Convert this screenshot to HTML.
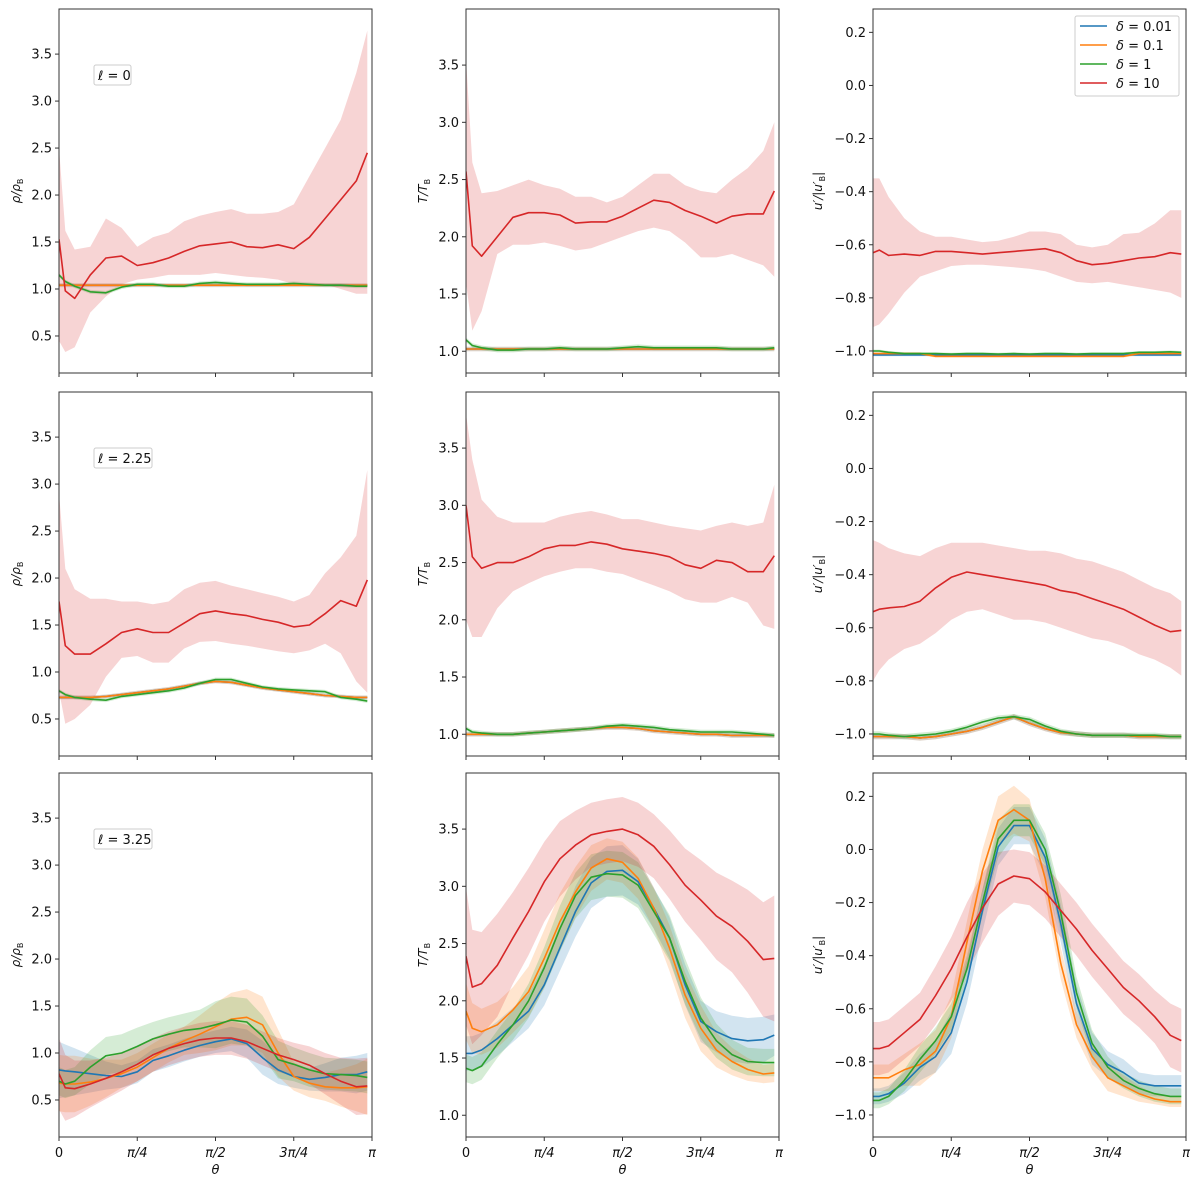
<!DOCTYPE html>
<html><head><meta charset="utf-8"><style>
body{margin:0;background:#fff;}
svg{display:block;font-family:"DejaVu Sans","Liberation Sans",sans-serif;}
</style></head><body>
<svg id="fig" width="1200" height="1186" viewBox="0 0 1200 1186" xmlns="http://www.w3.org/2000/svg"></svg>
<script>
const thetaFrac=[0,.02,.05,.1,.15,.2,.25,.3,.35,.4,.45,.5,.55,.6,.65,.7,.75,.8,.85,.9,.95,.985];
const seriesNames=["δ = 0.01","δ = 0.1","δ = 1","δ = 10"];
const colors=["#1f77b4","#ff7f0e","#2ca02c","#d62728"];
const rhoTicks=[0.5,1.0,1.5,2.0,2.5,3.0,3.5];
const tTicks=[1.0,1.5,2.0,2.5,3.0,3.5];
const uTicks=[-1.0,-0.8,-0.6,-0.4,-0.2,0.0,0.2];
const xTickLabels=["0","π/4","π/2","3π/4","π"];
const ellLabels=["ℓ = 0","ℓ = 2.25","ℓ = 3.25"];

// Row 1 (l=0)
const r1c1Blue=[1.04,1.04,1.04,1.04,1.04,1.04,1.04,1.04,1.04,1.04,1.04,1.04,1.04,1.04,1.04,1.04,1.04,1.04,1.04,1.04,1.04,1.04];
const r1c1Orange=[1.04,1.04,1.04,1.04,1.04,1.04,1.04,1.04,1.04,1.04,1.04,1.04,1.04,1.04,1.04,1.04,1.04,1.04,1.04,1.04,1.04,1.04];
const r1c1Green=[1.15,1.08,1.03,0.97,0.96,1.02,1.05,1.05,1.03,1.03,1.06,1.07,1.06,1.05,1.05,1.05,1.06,1.05,1.04,1.04,1.03,1.03];
const r1c1Red=[1.53,0.98,0.9,1.15,1.33,1.35,1.25,1.28,1.33,1.40,1.46,1.48,1.50,1.45,1.44,1.47,1.43,1.55,1.75,1.95,2.15,2.45];
const r1c1RedLo=[0.45,0.33,0.38,0.75,0.92,1.05,1.10,1.12,1.15,1.15,1.15,1.17,1.15,1.13,1.12,1.10,1.05,1.05,1.05,1.0,0.95,0.95];
const r1c1RedHi=[2.5,1.62,1.42,1.45,1.75,1.65,1.45,1.55,1.60,1.72,1.78,1.82,1.85,1.80,1.80,1.82,1.90,2.2,2.5,2.8,3.3,3.75];

const r1c2Blue=[1.02,1.02,1.02,1.02,1.02,1.02,1.02,1.02,1.02,1.02,1.02,1.02,1.02,1.02,1.02,1.02,1.02,1.02,1.02,1.02,1.02,1.02];
const r1c2Orange=[1.02,1.02,1.02,1.02,1.02,1.02,1.02,1.02,1.02,1.02,1.02,1.02,1.02,1.02,1.02,1.02,1.02,1.02,1.02,1.02,1.02,1.02];
const r1c2Green=[1.10,1.05,1.03,1.01,1.01,1.02,1.02,1.03,1.02,1.02,1.02,1.03,1.04,1.03,1.03,1.03,1.03,1.03,1.02,1.02,1.02,1.03];
const r1c2Red=[2.57,1.92,1.83,2.0,2.17,2.21,2.21,2.19,2.12,2.13,2.13,2.18,2.25,2.32,2.30,2.23,2.18,2.12,2.18,2.20,2.20,2.40];
const r1c2RedLo=[1.6,1.18,1.35,1.85,1.93,1.93,1.95,1.92,1.88,1.90,1.95,2.0,2.05,2.08,2.05,1.95,1.82,1.82,1.85,1.80,1.75,1.65];
const r1c2RedHi=[3.55,2.65,2.38,2.40,2.45,2.50,2.45,2.42,2.35,2.35,2.30,2.35,2.45,2.55,2.55,2.45,2.40,2.38,2.50,2.60,2.75,3.0];

const r1c3Blue=[-1.015,-1.015,-1.015,-1.015,-1.015,-1.015,-1.015,-1.015,-1.015,-1.015,-1.015,-1.015,-1.015,-1.015,-1.015,-1.015,-1.015,-1.015,-1.015,-1.015,-1.015,-1.015];
const r1c3Orange=[-1.01,-1.01,-1.01,-1.01,-1.01,-1.02,-1.02,-1.02,-1.02,-1.02,-1.02,-1.02,-1.02,-1.02,-1.02,-1.02,-1.02,-1.02,-1.01,-1.01,-1.01,-1.01];
const r1c3Green=[-1.0,-1.0,-1.005,-1.01,-1.01,-1.01,-1.012,-1.01,-1.01,-1.012,-1.01,-1.012,-1.01,-1.01,-1.012,-1.01,-1.01,-1.01,-1.005,-1.005,-1.003,-1.005];
const r1c3Red=[-0.63,-0.62,-0.64,-0.635,-0.64,-0.625,-0.625,-0.63,-0.635,-0.63,-0.625,-0.62,-0.615,-0.63,-0.66,-0.675,-0.67,-0.66,-0.65,-0.645,-0.63,-0.635];
const r1c3RedLo=[-0.91,-0.90,-0.86,-0.78,-0.72,-0.70,-0.68,-0.675,-0.675,-0.68,-0.685,-0.69,-0.70,-0.72,-0.74,-0.745,-0.74,-0.75,-0.76,-0.77,-0.78,-0.80];
const r1c3RedHi=[-0.35,-0.35,-0.42,-0.50,-0.55,-0.57,-0.57,-0.58,-0.59,-0.585,-0.57,-0.55,-0.55,-0.56,-0.60,-0.61,-0.60,-0.56,-0.555,-0.52,-0.47,-0.47];

// Row 2 (l=2.25)
const r2c1Blue=[0.73,0.73,0.73,0.73,0.74,0.76,0.78,0.80,0.82,0.85,0.88,0.90,0.89,0.86,0.83,0.81,0.79,0.77,0.75,0.74,0.73,0.73];
const r2c1Orange=[0.73,0.73,0.73,0.73,0.74,0.76,0.78,0.80,0.82,0.85,0.88,0.90,0.89,0.86,0.83,0.81,0.79,0.77,0.75,0.74,0.73,0.73];
const r2c1Green=[0.80,0.76,0.73,0.71,0.70,0.74,0.76,0.78,0.80,0.83,0.88,0.92,0.92,0.88,0.84,0.82,0.81,0.80,0.79,0.73,0.71,0.69];
const r2c1Red=[1.75,1.28,1.19,1.19,1.30,1.42,1.46,1.42,1.42,1.52,1.62,1.65,1.62,1.60,1.56,1.53,1.48,1.50,1.62,1.76,1.70,1.98];
const r2c1RedLo=[0.8,0.45,0.50,0.65,0.95,1.15,1.17,1.10,1.10,1.25,1.32,1.33,1.30,1.28,1.25,1.22,1.20,1.23,1.30,1.20,0.9,0.78];
const r2c1RedHi=[2.9,2.1,1.88,1.78,1.78,1.75,1.75,1.72,1.75,1.88,1.95,1.97,1.92,1.88,1.84,1.80,1.75,1.82,2.05,2.22,2.45,3.15];

const r2c2Blue=[1.0,1.0,1.0,1.0,1.0,1.01,1.02,1.03,1.04,1.05,1.06,1.06,1.05,1.03,1.02,1.01,1.0,1.0,0.99,0.99,0.99,0.99];
const r2c2Orange=[1.0,1.0,1.0,1.0,1.0,1.01,1.02,1.03,1.04,1.05,1.06,1.06,1.05,1.03,1.02,1.01,1.0,1.0,0.99,0.99,0.99,0.99];
const r2c2Green=[1.05,1.02,1.01,1.0,1.0,1.01,1.02,1.03,1.04,1.05,1.07,1.08,1.07,1.06,1.04,1.03,1.02,1.02,1.02,1.01,1.0,0.99];
const r2c2Red=[3.0,2.55,2.45,2.5,2.5,2.55,2.62,2.65,2.65,2.68,2.66,2.62,2.60,2.58,2.55,2.48,2.45,2.52,2.50,2.42,2.42,2.56];
const r2c2RedLo=[2.0,1.85,1.85,2.1,2.25,2.32,2.38,2.42,2.45,2.45,2.42,2.40,2.35,2.30,2.25,2.18,2.15,2.15,2.20,2.15,1.95,1.92];
const r2c2RedHi=[3.8,3.4,3.05,2.90,2.85,2.85,2.85,2.90,2.93,2.95,2.92,2.88,2.88,2.85,2.82,2.80,2.78,2.82,2.85,2.82,2.85,3.18];

const r2c3Blue=[-1.01,-1.01,-1.01,-1.01,-1.015,-1.01,-1.0,-0.99,-0.975,-0.955,-0.935,-0.96,-0.98,-0.995,-1.0,-1.005,-1.005,-1.005,-1.01,-1.01,-1.01,-1.01];
const r2c3Orange=[-1.01,-1.01,-1.01,-1.01,-1.015,-1.01,-1.0,-0.99,-0.975,-0.955,-0.935,-0.96,-0.98,-0.995,-1.0,-1.005,-1.005,-1.005,-1.01,-1.01,-1.01,-1.01];
const r2c3Green=[-1.0,-1.0,-1.005,-1.01,-1.005,-1.0,-0.99,-0.975,-0.955,-0.94,-0.935,-0.945,-0.97,-0.99,-1.0,-1.005,-1.005,-1.005,-1.005,-1.005,-1.01,-1.01];
const r2c3Red=[-0.54,-0.53,-0.525,-0.52,-0.50,-0.45,-0.41,-0.39,-0.40,-0.41,-0.42,-0.43,-0.44,-0.46,-0.47,-0.49,-0.51,-0.53,-0.56,-0.59,-0.615,-0.61];
const r2c3RedLo=[-0.80,-0.76,-0.72,-0.68,-0.66,-0.62,-0.57,-0.54,-0.53,-0.55,-0.57,-0.57,-0.58,-0.60,-0.62,-0.64,-0.65,-0.67,-0.70,-0.72,-0.75,-0.78];
const r2c3RedHi=[-0.27,-0.28,-0.30,-0.32,-0.33,-0.30,-0.28,-0.28,-0.28,-0.29,-0.30,-0.31,-0.31,-0.32,-0.34,-0.35,-0.37,-0.39,-0.42,-0.45,-0.47,-0.50];

// Row 3 (l=3.25): means and band half-widths
const r3c1Blue=[0.82,0.81,0.80,0.78,0.76,0.75,0.80,0.92,0.97,1.03,1.08,1.12,1.15,1.10,0.95,0.82,0.75,0.72,0.74,0.77,0.77,0.80];
const r3c1Orange=[0.68,0.67,0.67,0.69,0.73,0.78,0.85,0.95,1.05,1.13,1.2,1.28,1.36,1.38,1.30,1.0,0.75,0.68,0.64,0.63,0.63,0.64];
const r3c1Green=[0.70,0.67,0.70,0.85,0.97,1.0,1.07,1.15,1.20,1.24,1.26,1.30,1.35,1.33,1.18,0.93,0.88,0.82,0.78,0.77,0.76,0.74];
const r3c1Red=[0.78,0.63,0.62,0.67,0.73,0.80,0.88,0.98,1.05,1.10,1.14,1.16,1.16,1.12,1.05,0.98,0.93,0.87,0.78,0.70,0.64,0.65];
const r3c1BlueHW=[0.3,0.28,0.25,0.2,0.15,0.12,0.12,0.12,0.12,0.12,0.12,0.12,0.13,0.15,0.18,0.15,0.12,0.12,0.15,0.18,0.2,0.2];
const r3c1OrangeHW=[0.3,0.3,0.3,0.25,0.2,0.15,0.15,0.15,0.15,0.15,0.2,0.25,0.28,0.3,0.3,0.25,0.15,0.15,0.15,0.2,0.25,0.3];
const r3c1GreenHW=[0.15,0.15,0.15,0.18,0.2,0.2,0.2,0.18,0.18,0.18,0.2,0.25,0.25,0.25,0.22,0.2,0.18,0.18,0.17,0.17,0.17,0.17];
const r3c1RedHW=[0.38,0.35,0.3,0.25,0.22,0.2,0.18,0.18,0.18,0.18,0.18,0.18,0.18,0.18,0.18,0.18,0.18,0.2,0.22,0.25,0.3,0.3];

const r3c2Blue=[1.54,1.54,1.57,1.67,1.79,1.91,2.14,2.46,2.78,3.03,3.13,3.14,3.04,2.81,2.55,2.14,1.82,1.73,1.67,1.65,1.66,1.70];
const r3c2Orange=[1.91,1.76,1.73,1.79,1.92,2.08,2.37,2.69,2.95,3.16,3.24,3.21,3.07,2.81,2.46,2.05,1.76,1.57,1.47,1.40,1.36,1.37];
const r3c2Green=[1.41,1.39,1.43,1.62,1.79,2.0,2.29,2.63,2.92,3.08,3.11,3.10,3.01,2.78,2.55,2.17,1.85,1.65,1.53,1.47,1.46,1.46];
const r3c2Red=[2.39,2.12,2.15,2.31,2.55,2.78,3.04,3.24,3.36,3.45,3.48,3.5,3.45,3.35,3.19,3.01,2.88,2.74,2.65,2.52,2.36,2.37];
const r3c2BlueHW=[0.15,0.15,0.15,0.15,0.15,0.15,0.18,0.2,0.22,0.22,0.22,0.22,0.2,0.18,0.18,0.18,0.18,0.18,0.2,0.2,0.2,0.18];
const r3c2OrangeHW=[0.25,0.22,0.2,0.2,0.2,0.22,0.25,0.25,0.22,0.2,0.18,0.18,0.18,0.18,0.2,0.2,0.2,0.15,0.12,0.1,0.08,0.08];
const r3c2GreenHW=[0.12,0.12,0.12,0.12,0.13,0.15,0.18,0.2,0.2,0.2,0.2,0.2,0.2,0.2,0.2,0.2,0.18,0.15,0.13,0.12,0.12,0.12];
const r3c2RedHW=[0.6,0.5,0.45,0.45,0.4,0.38,0.35,0.33,0.3,0.28,0.28,0.28,0.28,0.28,0.3,0.32,0.35,0.38,0.4,0.45,0.5,0.55];

const r3c3Blue=[-0.93,-0.93,-0.92,-0.88,-0.82,-0.78,-0.69,-0.50,-0.23,0.01,0.09,0.09,-0.03,-0.28,-0.58,-0.75,-0.81,-0.84,-0.88,-0.89,-0.89,-0.89];
const r3c3Orange=[-0.86,-0.86,-0.86,-0.83,-0.81,-0.76,-0.63,-0.35,-0.08,0.11,0.15,0.11,-0.11,-0.43,-0.66,-0.78,-0.86,-0.89,-0.92,-0.94,-0.95,-0.95];
const r3c3Green=[-0.945,-0.945,-0.93,-0.87,-0.79,-0.72,-0.63,-0.45,-0.20,0.04,0.11,0.11,0.0,-0.24,-0.54,-0.73,-0.82,-0.87,-0.90,-0.92,-0.93,-0.93];
const r3c3Red=[-0.75,-0.75,-0.74,-0.69,-0.64,-0.55,-0.45,-0.33,-0.22,-0.13,-0.10,-0.11,-0.16,-0.23,-0.30,-0.38,-0.45,-0.52,-0.57,-0.63,-0.70,-0.72];
const r3c3BlueHW=[0.03,0.03,0.03,0.04,0.05,0.06,0.08,0.08,0.08,0.07,0.07,0.07,0.07,0.07,0.07,0.06,0.05,0.05,0.04,0.04,0.04,0.04];
const r3c3OrangeHW=[0.05,0.05,0.05,0.06,0.08,0.08,0.08,0.08,0.08,0.09,0.09,0.08,0.07,0.06,0.05,0.05,0.05,0.04,0.03,0.02,0.02,0.02];
const r3c3GreenHW=[0.03,0.03,0.03,0.04,0.05,0.05,0.05,0.05,0.05,0.07,0.06,0.06,0.06,0.07,0.06,0.05,0.04,0.03,0.03,0.03,0.03,0.03];
const r3c3RedHW=[0.1,0.1,0.1,0.1,0.1,0.11,0.12,0.13,0.13,0.12,0.1,0.1,0.1,0.1,0.1,0.1,0.1,0.1,0.1,0.1,0.12,0.12];

const NS="http://www.w3.org/2000/svg";
const svg=document.getElementById("fig");
function mk(tag,attrs,parent){const e=document.createElementNS(NS,tag);for(const k in attrs)e.setAttribute(k,attrs[k]);(parent||svg).appendChild(e);return e;}
const colLeft=[59,466,873], W=313, rowTop=[9,392,773], H=364;
const ylims=[[0.106,3.98],[0.81,3.99],[-1.083,0.288]];
const yTickSets=[rhoTicks,tTicks,uTicks];
const yTitles=[["ρ/ρ","B"],["T/T","B"],["u′/|u′","B","|"]];
const fmt=v=>{let s=v.toFixed(1);return s.replace("-","−");};
const hw0=thetaFrac.map(()=>0.02);
function addHW(m,h){return [m.map((v,i)=>v-h[i]),m.map((v,i)=>v+h[i])];}
const panels=[
 [[r1c1Blue,r1c1Orange,r1c1Green,r1c1Red],[addHW(r1c1Blue,hw0),addHW(r1c1Orange,hw0),addHW(r1c1Green,hw0),[r1c1RedLo,r1c1RedHi]]],
 [[r1c2Blue,r1c2Orange,r1c2Green,r1c2Red],[addHW(r1c2Blue,hw0),addHW(r1c2Orange,hw0),addHW(r1c2Green,hw0),[r1c2RedLo,r1c2RedHi]]],
 [[r1c3Blue,r1c3Orange,r1c3Green,r1c3Red],[addHW(r1c3Blue,hw0.map(v=>v/4)),addHW(r1c3Orange,hw0.map(v=>v/4)),addHW(r1c3Green,hw0.map(v=>v/4)),[r1c3RedLo,r1c3RedHi]]],
 [[r2c1Blue,r2c1Orange,r2c1Green,r2c1Red],[addHW(r2c1Blue,hw0),addHW(r2c1Orange,hw0),addHW(r2c1Green,hw0),[r2c1RedLo,r2c1RedHi]]],
 [[r2c2Blue,r2c2Orange,r2c2Green,r2c2Red],[addHW(r2c2Blue,hw0),addHW(r2c2Orange,hw0),addHW(r2c2Green,hw0),[r2c2RedLo,r2c2RedHi]]],
 [[r2c3Blue,r2c3Orange,r2c3Green,r2c3Red],[addHW(r2c3Blue,hw0.map(v=>v/2)),addHW(r2c3Orange,hw0.map(v=>v/2)),addHW(r2c3Green,hw0.map(v=>v/2)),[r2c3RedLo,r2c3RedHi]]],
 [[r3c1Blue,r3c1Orange,r3c1Green,r3c1Red],[addHW(r3c1Blue,r3c1BlueHW),addHW(r3c1Orange,r3c1OrangeHW),addHW(r3c1Green,r3c1GreenHW),addHW(r3c1Red,r3c1RedHW)]],
 [[r3c2Blue,r3c2Orange,r3c2Green,r3c2Red],[addHW(r3c2Blue,r3c2BlueHW),addHW(r3c2Orange,r3c2OrangeHW),addHW(r3c2Green,r3c2GreenHW),addHW(r3c2Red,r3c2RedHW)]],
 [[r3c3Blue,r3c3Orange,r3c3Green,r3c3Red],[addHW(r3c3Blue,r3c3BlueHW),addHW(r3c3Orange,r3c3OrangeHW),addHW(r3c3Green,r3c3GreenHW),addHW(r3c3Red,r3c3RedHW)]]
];
for(let r=0;r<3;r++)for(let c=0;c<3;c++){
 const L=colLeft[c],T=rowTop[r],[y0,y1]=ylims[c];
 const g=mk("g",{});
 
 
 const xs=f=>L+f*W, ys=v=>T+H-(v-y0)/(y1-y0)*H;
 const cid="clip"+r+c;
 const cp=mk("clipPath",{id:cid},g);mk("rect",{x:L,y:T,width:W,height:H},cp);
 const [means,bands]=panels[r*3+c];
 for(let s=0;s<4;s++){
  const [lo,hi]=bands[s];
  let d="M"+thetaFrac.map((f,i)=>xs(f).toFixed(1)+","+ys(hi[i]).toFixed(1)).join("L");
  for(let i=thetaFrac.length-1;i>=0;i--)d+="L"+xs(thetaFrac[i]).toFixed(1)+","+ys(lo[i]).toFixed(1);
  const p=mk("path",{d:d+"Z",fill:colors[s],"fill-opacity":0.2,stroke:"none","clip-path":"url(#"+cid+")"},g);
  
  
 }
 for(let s=0;s<4;s++){
  const pts=thetaFrac.map((f,i)=>xs(f).toFixed(1)+","+ys(means[s][i]).toFixed(1)).join(" ");
  const pl=mk("polyline",{points:pts,fill:"none",stroke:colors[s],"stroke-width":1.6,"stroke-linejoin":"round","clip-path":"url(#"+cid+")"},g);
  
  
 }
 const fr=mk("rect",{x:L,y:T,width:W,height:H,fill:"none",stroke:"#333","stroke-width":1},g);
 
 
 for(const v of yTickSets[c]){
  const y=ys(v);
  mk("line",{x1:L-4,x2:L,y1:y,y2:y,stroke:"#333","stroke-width":1},g);
  const t=mk("text",{x:L-7,y:y+4.5,"text-anchor":"end","font-size":13,fill:"#111"},g);
  t.textContent=fmt(v);
  
  
 }
 for(let k=0;k<5;k++){
  const x=L+k*W/4;
  mk("line",{x1:x,x2:x,y1:T+H,y2:T+H+4,stroke:"#333","stroke-width":1},g);
  if(r===2){
   const t=mk("text",{x:x,y:T+H+20,"text-anchor":"middle","font-size":13,"font-style":k?"italic":"normal",fill:"#111"},g);
   t.textContent=xTickLabels[k];
   
   
  }
 }
 if(r===2){
  const t=mk("text",{x:L+W/2,y:T+H+37,"text-anchor":"middle","font-size":13,"font-style":"italic",fill:"#111"},g);
  t.textContent="θ";
  
  
 }
 const yt=yTitles[c];
 const tx=L-(c===2?51:39), ty=T+H/2;
 const t=mk("text",{x:0,y:0,"text-anchor":"middle","font-size":12,fill:"#111",transform:"translate("+tx+","+ty+") rotate(-90)"},g);
 
 
 const a=mk("tspan",{"font-style":"italic"},t);a.textContent=yt[0];
 const b=mk("tspan",{"font-size":8,dy:3},t);b.textContent=yt[1];
 if(yt[2]){const q=mk("tspan",{dy:-3},t);q.textContent=yt[2];}
 if(c===0){
  const lb=mk("g",{},g);
  
  
  const wbox=r===0?37:58;
  mk("rect",{x:94,y:T+56,width:wbox,height:20,rx:2,fill:"#fff",stroke:"#ccc","stroke-width":1},lb);
  const tt=mk("text",{x:98,y:T+71,"font-size":13,fill:"#111"},lb);
  tt.textContent=ellLabels[r];
 }
}
// legend
const lg=mk("g",{});


mk("rect",{x:1075,y:16,width:104,height:80,rx:2,fill:"#fff","fill-opacity":0.8,stroke:"#ccc","stroke-width":1},lg);
for(let s=0;s<4;s++){
 const y=26+s*19;
 const e=mk("g",{},lg);
 
 
 mk("line",{x1:1080,x2:1107,y1:y,y2:y,stroke:colors[s],"stroke-width":1.6},e);
 const t=mk("text",{x:1116,y:y+5,"font-size":13,fill:"#111"},e);
 const d=mk("tspan",{"font-style":"italic"},t);d.textContent="δ";
 const r=mk("tspan",{},t);r.textContent=" = "+seriesNames[s].split("= ")[1];
}
</script>
</body></html>
